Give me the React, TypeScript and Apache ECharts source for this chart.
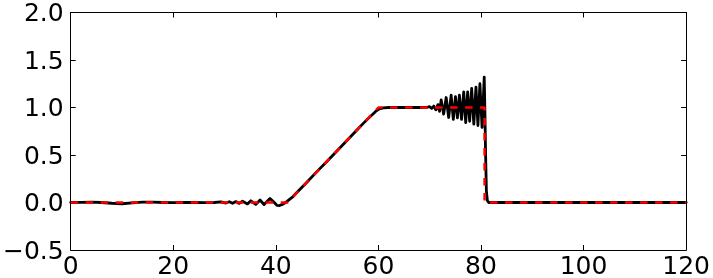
import React, { useEffect, useRef } from 'react';
import * as echarts from 'echarts';

// Reference (exact) solution: dashed red line
const referenceT: number[] = [0, 42.3, 60, 80.7, 80.7, 120];
const referenceY: number[] = [0, 0, 1, 1, 0, 0];

// Numerical solution: solid black line, in sections
const baselineSection: [number, number][] = [
  [0, 0], [2, 0.002], [4, 0.003], [6, 0.0], [8, -0.008], [10, -0.013], [12, -0.005],
  [14, 0.004], [16, 0.003], [18, 0.0], [20, -0.002], [22, 0.0], [24, 0.002], [26, -0.001], [28, 0],
];

const kinkWiggleSection: [number, number][] = [
  [29.3, 0.006], [30.27, -0.006], [30.92, 0.008], [31.56, -0.008], [32.21, 0.01],
  [32.85, -0.01], [33.5, 0.013], [34.47, -0.015], [35.12, 0.018], [36.08, -0.02],
  [36.92, 0.026], [37.7, -0.022], [38.86, 0.042], [39.7, 0.0], [40.2, -0.03], [40.7, -0.032],
];

const rampSection: [number, number][] = [
  [41.3, -0.02], [41.9, 0.0], [42.6, 0.03], [43.3, 0.06], [44, 0.1], [46, 0.21], [48, 0.325],
  [50, 0.435], [52, 0.548], [54, 0.66], [56, 0.774], [57, 0.83], [58, 0.885], [59, 0.935],
  [59.6, 0.965], [60.2, 0.985], [61, 0.996], [62, 1.0], [64, 1.002], [66, 1.0], [68, 1.0], [69.4, 1.002],
];

const shockOscillationSection: [number, number][] = [
  [70.0, 1.008], [70.4, 0.99], [70.8, 1.015], [71.2, 0.975],
  [71.59, 1.03], [71.92, 0.96], [72.24, 1.08], [72.72, 0.93], [73.21, 1.105], [73.7, 0.895],
  [74.18, 1.13], [74.6, 0.875], [75.02, 1.115], [75.4, 0.89], [75.79, 1.13], [76.21, 0.875],
  [76.63, 1.165], [77.02, 0.84], [77.4, 1.165], [77.79, 0.855], [78.18, 1.2], [78.6, 0.825],
  [79.02, 1.215], [79.4, 0.81], [79.79, 1.25], [80.21, 0.79], [80.63, 1.32],
];

const dropSection: [number, number][] = [
  [80.75, 1.0], [80.9, 0.5], [81.05, 0.12], [81.25, 0.02], [81.5, 0], [90, 0], [100, 0], [110, 0], [120, 0],
];

const xMin = 0, xMax = 120, xStep = 20;
const yMin = -0.5, yMax = 2.0, yStep = 0.5;

const fontFamily = 'DejaVu Sans';

export default function App() {
  const ref = useRef<HTMLDivElement>(null);
  useEffect(() => {
    const chart = echarts.init(ref.current!, null, { renderer: 'svg' });
    const blackData = [
      ...baselineSection,
      ...kinkWiggleSection,
      ...rampSection,
      ...shockOscillationSection,
      ...dropSection,
    ];
    const redData = referenceT.map((t, i) => [t, referenceY[i]]);
    const yFmt = (v: number) => (v < 0 ? '\u2212' + Math.abs(v).toFixed(1) : v.toFixed(1));
    const axisLine = { show: true, onZero: false, lineStyle: { color: '#000', width: 1 } };
    const tick = { show: true, inside: true, length: 5, lineStyle: { color: '#000', width: 1 } };
    const label = { color: '#000', fontSize: 25, fontFamily };
    chart.setOption({
      animation: false,
      grid: { left: 69, right: 25, top: 11, bottom: 27, containLabel: false },
      xAxis: [
        {
          type: 'value', min: xMin, max: xMax, interval: xStep, position: 'bottom',
          axisLine, axisTick: tick, splitLine: { show: false },
          axisLabel: { ...label, margin: 3 },
        },
        {
          type: 'value', min: xMin, max: xMax, interval: xStep, position: 'top',
          axisLine, axisTick: tick, splitLine: { show: false }, axisLabel: { show: false },
        },
      ],
      yAxis: [
        {
          type: 'value', min: yMin, max: yMax, interval: yStep, position: 'left',
          axisLine, axisTick: tick, splitLine: { show: false },
          axisLabel: { ...label, margin: 7, formatter: yFmt },
        },
        {
          type: 'value', min: yMin, max: yMax, interval: yStep, position: 'right',
          axisLine, axisTick: tick, splitLine: { show: false }, axisLabel: { show: false },
        },
      ],
      series: [
        {
          type: 'line', data: blackData, showSymbol: false, symbol: 'none',
          lineStyle: { color: '#000', width: 2.8, join: 'round', cap: 'round' },
          z: 2,
        },
        {
          type: 'line', data: redData, showSymbol: false, symbol: 'none',
          lineStyle: { color: '#ff0000', width: 2.5, type: [7.5, 7.5] },
          z: 3,
        },
      ],
    });
    return () => chart.dispose();
  }, []);
  return <div ref={ref} style={{ position: 'fixed', left: 0, top: 0, width: 713, height: 278 }} />;
}
